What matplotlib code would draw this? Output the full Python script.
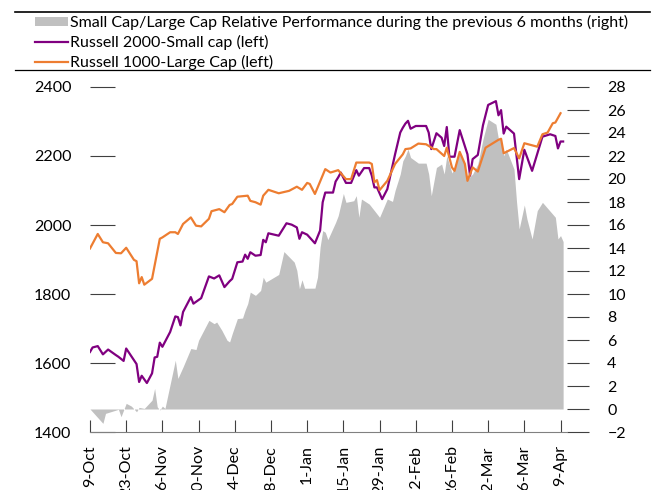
import numpy as np
import matplotlib
matplotlib.use("Agg")
import matplotlib.pyplot as plt
from matplotlib.patches import Patch
from matplotlib.lines import Line2D

plt.rcParams['font.family'] = ['Lato', 'DejaVu Sans']

# days counted from 9-Oct-2020
start = np.datetime64('2020-10-09')

r2000_days = [0, 1, 3, 5, 7, 10, 11, 13, 14, 18, 19, 20, 22, 24, 25, 26, 27, 28, 31, 33,
              34, 35, 36, 39, 40, 43, 46, 48, 50, 52, 54, 55, 57, 59, 60, 61, 62, 64, 66, 67,
              68, 69, 73, 76, 78, 80, 81, 82, 84, 87, 89, 90, 91, 94, 95, 96, 97, 99, 101, 103,
              104, 106, 108, 109, 110, 111, 113, 115, 118, 120, 121, 122, 123, 124, 126, 130, 131, 132, 134, 136,
              137, 138, 139, 141, 143, 146, 147, 148, 150, 152, 154, 157, 158, 159, 160, 161, 164, 166, 168, 171,
              175, 178, 180, 181, 182, 183]
r2000 = [1632, 1645, 1649, 1625, 1639, 1623, 1618, 1606, 1642, 1597, 1545, 1563, 1542, 1570, 1616, 1618, 1659, 1647, 1690, 1735,
         1733, 1709, 1748, 1791, 1772, 1788, 1851, 1845, 1854, 1820, 1837, 1844, 1892, 1894, 1914, 1902, 1921, 1911, 1913, 1957,
         1950, 1976, 1969, 2005, 2001, 1993, 1960, 1979, 1972, 1947, 1984, 2066, 2094, 2094, 2126, 2138, 2152, 2122, 2122, 2159,
         2143, 2165, 2165, 2143, 2109, 2109, 2075, 2104, 2205, 2268, 2282, 2294, 2302, 2279, 2287, 2287, 2268, 2220, 2266, 2253,
         2229, 2284, 2198, 2198, 2275, 2205, 2143, 2191, 2203, 2289, 2348, 2359, 2318, 2333, 2265, 2285, 2265, 2133, 2218, 2157,
         2256, 2263, 2258, 2222, 2242, 2242]

r1000_days = [0, 3, 5, 7, 10, 12, 14, 17, 18, 19, 20, 21, 24, 27, 28, 31, 33, 34, 36, 39,
              41, 43, 46, 47, 50, 52, 54, 55, 57, 61, 62, 64, 66, 67, 69, 73, 77, 80, 82, 84,
              85, 87, 91, 93, 96, 99, 101, 103, 108, 109, 110, 111, 112, 115, 118, 121, 122, 124, 127, 130,
              133, 134, 137, 138, 140, 141, 143, 145, 146, 148, 150, 153, 158, 159, 160, 164, 166, 168, 173, 175,
              177, 179, 180, 182]
r1000 = [1932, 1974, 1950, 1947, 1919, 1918, 1934, 1899, 1895, 1831, 1849, 1827, 1844, 1960, 1964, 1979, 1979, 1974, 2003, 2022,
         1998, 1996, 2018, 2040, 2046, 2037, 2058, 2061, 2082, 2085, 2070, 2066, 2059, 2085, 2102, 2092, 2099, 2111, 2102, 2122,
         2119, 2090, 2162, 2152, 2159, 2133, 2133, 2181, 2181, 2177, 2124, 2130, 2101, 2128, 2177, 2205, 2220, 2222, 2236, 2234,
         2220, 2220, 2200, 2224, 2167, 2157, 2212, 2177, 2128, 2167, 2155, 2224, 2247, 2250, 2208, 2223, 2193, 2237, 2227, 2263,
         2268, 2295, 2297, 2324]

rel_days = [0, 5, 6, 8, 11, 12, 14, 16, 18, 19, 21, 24, 25, 26, 27, 28, 29, 33, 34, 36,
            39, 41, 42, 46, 48, 49, 51, 53, 54, 55, 57, 59, 60, 61, 62, 64, 66, 67, 68, 73,
            75, 79, 80, 81, 82, 83, 87, 88, 89, 90, 91, 92, 93, 95, 96, 98, 99, 102, 103, 104,
            105, 108, 110, 112, 115, 117, 118, 120, 121, 122, 123, 124, 127, 130, 131, 132, 134, 136, 137, 138,
            140, 141, 143, 145, 146, 148, 150, 152, 154, 157, 158, 159, 160, 161, 164, 165, 166, 168, 169, 171,
            173, 175, 180, 181, 182, 183]
rel = [0, -1.25, -0.38, -0.24, -0.03, -0.67, 0.49, 0.25, -0.24, 0.14, 0.05, 0.77, 1.79, 0.19, -0.09, 0.25, 0.05, 4.24, 2.66, 3.66,
       5.26, 5.17, 5.98, 7.71, 7.42, 7.56, 6.84, 5.98, 5.83, 6.55, 7.86, 7.91, 8.6, 9.16, 10.16, 9.88, 10.31, 11.46, 11.03, 11.7,
       13.69, 12.77, 12.05, 10.46, 11.24, 10.5, 10.51, 11.47, 14.07, 15.51, 15.37, 14.73, 15.23, 16.23, 16.81, 18.74, 17.97, 18.11, 18.55, 16.67,
       18.26, 17.82, 17.25, 16.67, 18.26, 18.05, 19.0, 20.43, 21.58, 22.01, 22.6, 21.87, 21.38, 21.38, 20.43, 18.55, 21.0, 21.3, 20.43, 22.01,
       20.52, 21.0, 22.3, 21.15, 20.0, 20.43, 21.3, 23.46, 25.19, 24.76, 23.46, 23.4, 22.01, 22.6, 20.86, 17.97, 15.66, 17.74, 16.53, 14.79,
       17.25, 17.97, 16.67, 14.79, 15.08, 14.56]

tick_days = np.arange(0, 183, 14)

purple = '#800080'
orange = '#ED7D31'
grey = '#C0C0C0'

fig = plt.figure(figsize=(6.59, 4.90), dpi=100)
ax = fig.add_axes([90 / 659, 58 / 490, 477 / 659, 345 / 490])
ax2 = ax.twinx()

d2000 = start + np.array(r2000_days)
d1000 = start + np.array(r1000_days)
drel = start + np.array(rel_days)

ax2.fill_between(drel, 0, rel, color=grey, linewidth=0)
ax.plot(d2000, r2000, color=purple, lw=1.6)
ax.plot(d1000, r1000, color=orange, lw=1.6)
ax.set_zorder(ax2.get_zorder() + 1)
ax.patch.set_visible(False)

ax.set_xlim(start, start + np.timedelta64(184, 'D') + np.timedelta64(12, 'h'))
ax.set_ylim(1400, 2400)
ax2.set_ylim(-2, 28)

ticks = start + tick_days
ax.set_xticks(ticks)
ax.set_xticklabels([f"{t.astype(object).day}-{t.astype(object).strftime('%b')}" for t in ticks],
                   rotation=90, ha='center', va='top')
ax.set_yticks(range(1400, 2401, 200))
ax2.set_yticks(range(-2, 29, 2))

for s in ['top', 'left', 'right']:
    ax.spines[s].set_visible(False)
    ax2.spines[s].set_visible(False)
ax.spines['bottom'].set_color('#808080')
ax2.spines['bottom'].set_visible(False)

ax.tick_params(axis='x', direction='in', length=9, width=0.8, color='#404040',
               pad=9.5, labelsize=11.5)
ax.tick_params(axis='y', direction='in', length=18, width=0.8, color='#404040',
               pad=13.5, labelsize=11.5)
ax2.tick_params(axis='y', direction='out', length=16, width=0.8, color='#404040',
                pad=13, labelsize=11.5)
for lab in ax2.get_yticklabels():
    lab.set_ha('left')

handles = [Patch(facecolor=grey, edgecolor='none'),
           Line2D([], [], color=purple, lw=1.6),
           Line2D([], [], color=orange, lw=1.6)]
labels = ['Small Cap/Large Cap Relative Performance during the previous 6 months (right)',
          'Russell 2000-Small cap (left)',
          'Russell 1000-Large Cap (left)']
fig.legend(handles, labels, loc='upper left', bbox_to_anchor=(35 / 659, 1 - 15 / 490),
           frameon=False, fontsize=11.5, borderpad=0, borderaxespad=0,
           handlelength=2.05, handleheight=0.5, handletextpad=0.13, labelspacing=0.3)

fig.add_artist(Line2D([15 / 659, 650 / 659], [1 - 12 / 490, 1 - 12 / 490], color='black', lw=1.2))
fig.add_artist(Line2D([15 / 659, 650 / 659], [1 - 70 / 490, 1 - 70 / 490], color='black', lw=0.9))

fig.savefig('out.png', dpi=100)
